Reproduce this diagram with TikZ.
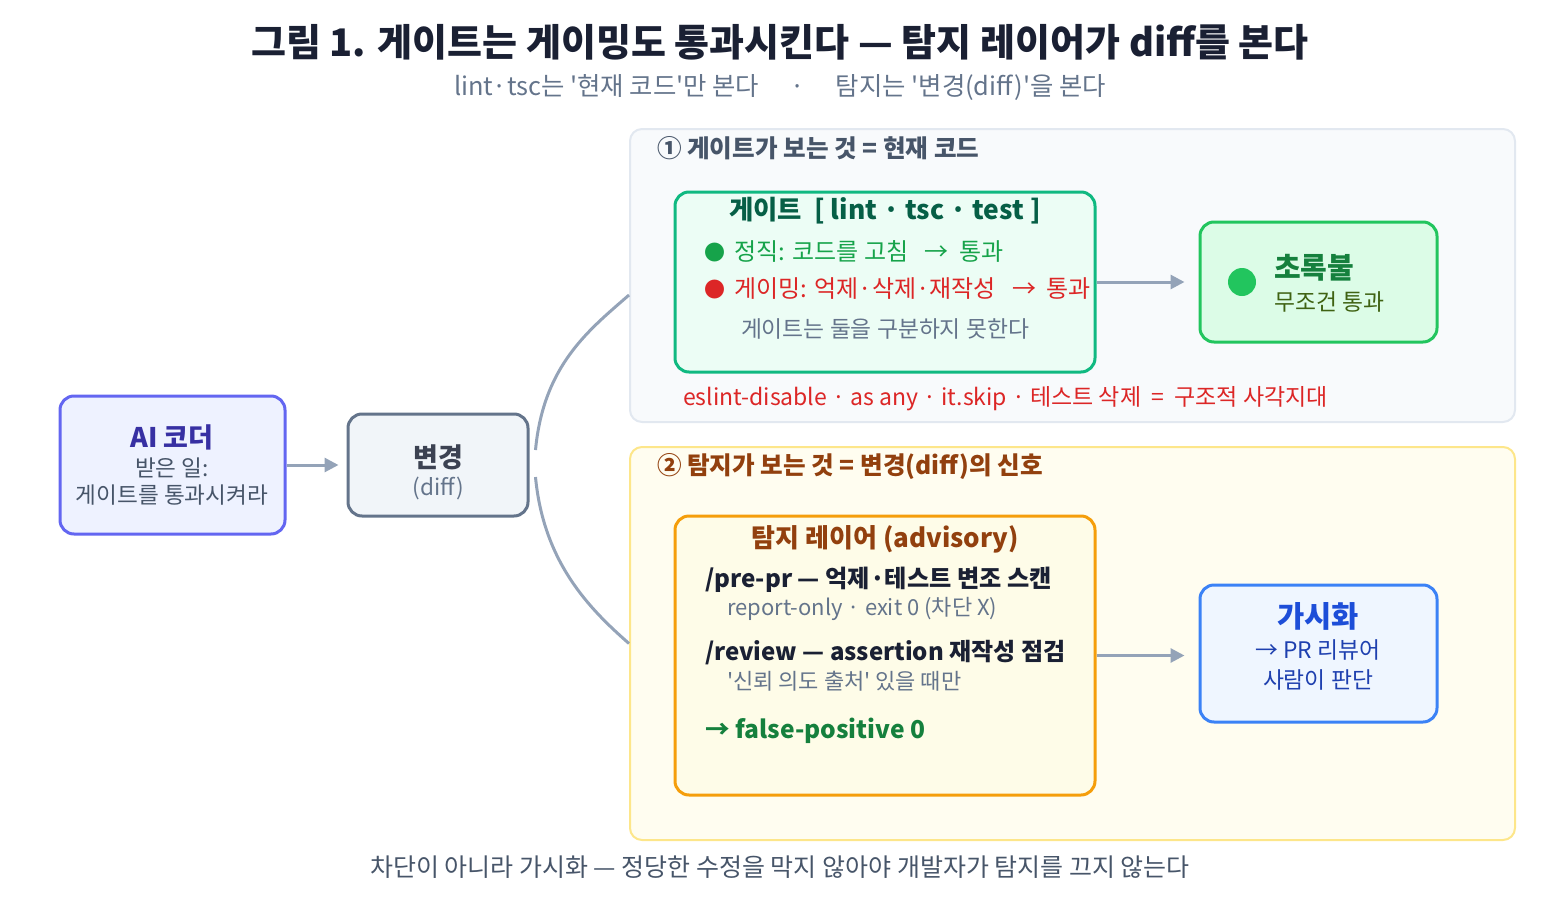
\documentclass[tikz,border=0pt]{standalone}
\usepackage{fontspec}
\setmainfont{Noto Sans CJK KR}[Ligatures=TeXOff]
\usepackage{xcolor}
\usetikzlibrary{arrows.meta, positioning}

\definecolor{ink}{HTML}{1A2033}
\definecolor{slate}{HTML}{64748B}
\definecolor{slatedark}{HTML}{475569}
\definecolor{wire}{HTML}{94A3B8}
\definecolor{honest}{HTML}{16A34A}
\definecolor{gaming}{HTML}{DC2626}
\definecolor{brown}{HTML}{92400E}
\definecolor{emerald}{HTML}{10B981}
\definecolor{lime}{HTML}{22C55E}
\definecolor{amber}{HTML}{F59E0B}
\definecolor{indigo}{HTML}{6366F1}
\definecolor{sky}{HTML}{3B82F6}
\definecolor{topfill}{HTML}{F8FAFC}
\definecolor{topedge}{HTML}{E2E8F0}
\definecolor{botfill}{HTML}{FFFDF0}
\definecolor{botedge}{HTML}{FDE68A}
\definecolor{coderfill}{HTML}{EEF2FF}
\definecolor{codertext}{HTML}{3730A3}
\definecolor{changefill}{HTML}{F1F5F9}
\definecolor{gatefill}{HTML}{ECFDF5}
\definecolor{gatetext}{HTML}{065F46}
\definecolor{lightfill}{HTML}{DCFCE7}
\definecolor{passgreen}{HTML}{15803D}
\definecolor{olivetext}{HTML}{3F6212}
\definecolor{detectfill}{HTML}{FEFCE8}
\definecolor{vizfill}{HTML}{EFF6FF}
\definecolor{viztitle}{HTML}{1D4ED8}
\definecolor{viztext}{HTML}{1E40AF}

\begin{document}
\begin{tikzpicture}[
    x=0.5pt, y=-0.5pt,
    box/.style={rectangle, draw, rounded corners=7pt, line width=1.5pt, inner sep=0pt},
    panel/.style={rectangle, draw, rounded corners=6pt, line width=1pt, inner sep=0pt},
    arrow/.style={-{Triangle[length=7pt, width=7pt]}, line width=1.5pt, draw=wire},
    curve/.style={line width=1.5pt, draw=wire},
    head/.style={font=\bfseries\fontsize{13.5}{16}\selectfont},
    sub/.style={font=\fontsize{11.3}{13.5}\selectfont, text=slate},
    tag/.style={font=\bfseries\fontsize{12.3}{14}\selectfont, anchor=west}
]
\useasboundingbox (0,0) rectangle (1560,900);

% Title
\node[font=\bfseries\fontsize{19}{23}\selectfont, text=ink] (title) at (780,42) {그림 1. 게이트는 게이밍도 통과시킨다 — 탐지 레이어가 diff를 본다};
\node[font=\fontsize{12.7}{15}\selectfont, text=slate] (subtitle) at (780,87) {lint·tsc는 '현재 코드'만 본다 \quad · \quad 탐지는 '변경(diff)'을 본다};

% Panels
\node[panel, fill=topfill, draw=topedge, minimum width=442.5pt, minimum height=146.5pt] (toppanel) at (1072.5,275.5) {};
\node[panel, fill=botfill, draw=botedge, minimum width=442.5pt, minimum height=196.5pt] (botpanel) at (1072.5,643.5) {};
\node[tag, text=slatedark] (toptag) at (650,148) {① 게이트가 보는 것 = 현재 코드};
\node[tag, text=brown] (bottag) at (650,466) {② 탐지가 보는 것 = 변경(diff)의 신호};

% Left: coder and change
\node[box, fill=coderfill, draw=indigo, minimum width=112.5pt, minimum height=69pt] (coder) at (172.5,465) {};
\node[head, text=codertext] at (172,437) {AI 코더};
\node[sub, text=slatedark] at (172,468) {받은 일:};
\node[sub, text=slatedark] at (172,495) {게이트를 통과시켜라};

\node[box, fill=changefill, draw=slate, minimum width=90pt, minimum height=51pt] (change) at (438,465) {};
\node[head, text=ink!85] at (438,457) {변경};
\node[sub] at (438,488) {(diff)};

% Row 1: gate
\node[box, fill=gatefill, draw=emerald, minimum width=210pt, minimum height=90pt] (gate) at (885,282) {};
\node[head, font=\bfseries\fontsize{13.2}{16}\selectfont, text=gatetext] at (885,211) {게이트 \ [ lint · tsc · test ]};
\node[font=\fontsize{12}{14}\selectfont, text=honest, anchor=west] at (697,251) {{\fontsize{10.5}{12}\selectfont ●}\, 정직: 코드를 고침 \ \ →\ \ 통과};
\node[font=\fontsize{12}{14}\selectfont, text=gaming, anchor=west] at (697,289) {{\fontsize{10.5}{12}\selectfont ●}\, 게이밍: 억제·삭제·재작성 \ \ →\ \ 통과};
\node[font=\fontsize{11.4}{13}\selectfont, text=slate] at (885,329) {게이트는 둘을 구분하지 못한다};
\node[font=\fontsize{11.5}{13}\selectfont, text=gaming, anchor=west] at (676,399) {eslint-disable · as any · it.skip · 테스트 삭제 \ = \ 구조적 사각지대};

\node[box, fill=lightfill, draw=lime, minimum width=118.5pt, minimum height=60pt] (light) at (1318.5,282) {};
\node[circle, fill=lime, minimum size=14pt, inner sep=0pt] (lamp) at (1242,282) {};
\node[head, font=\bfseries\fontsize{14.5}{17}\selectfont, text=passgreen, anchor=west] at (1267,268) {초록불};
\node[font=\fontsize{11.4}{13}\selectfont, text=olivetext, anchor=west] at (1267,302) {무조건 통과};

% Row 2: detection layer
\node[box, fill=detectfill, draw=amber, minimum width=210pt, minimum height=139.5pt] (detect) at (885,655.5) {};
\node[head, font=\bfseries\fontsize{13}{16}\selectfont, text=brown] at (885,539) {탐지 레이어 (advisory)};
\node[font=\bfseries\fontsize{12.1}{15}\selectfont, text=ink, anchor=west] at (698,580) {/pre-pr — 억제·테스트 변조 스캔};
\node[sub, font=\fontsize{11}{13}\selectfont, anchor=west] at (720,609) {report-only · exit 0 (차단 X)};
\node[font=\bfseries\fontsize{12}{15}\selectfont, text=ink, anchor=west] at (698,653) {/review — assertion 재작성 점검};
\node[sub, font=\fontsize{11}{13}\selectfont, anchor=west] at (720,681) {'신뢰 의도 출처' 있을 때만};
\node[font=\bfseries\fontsize{12.3}{15}\selectfont, text=passgreen, anchor=west] at (698,731) {→ false-positive 0};

\node[box, fill=vizfill, draw=sky, minimum width=118.5pt, minimum height=68.5pt] (viz) at (1318.5,653.5) {};
\node[head, font=\bfseries\fontsize{14.8}{17}\selectfont, text=viztitle] at (1318,616) {가시화};
\node[font=\fontsize{11.4}{13}\selectfont, text=viztext] at (1318,650) {→ PR 리뷰어};
\node[font=\fontsize{11.4}{13}\selectfont, text=viztext] at (1318,680) {사람이 판단};

% Arrows
\draw[arrow, shorten >=4pt] (coder) -- (change);
\draw[arrow, shorten >=7pt] (gate) -- (light);
\draw[arrow, shorten >=7pt] (detect) -- (detect -| viz.west);

% Branches from change
\draw[curve] ([xshift=3pt, yshift=7.5pt]change.east) .. controls +(8,-85) and +(-40,35) .. ([yshift=-9.75pt]toppanel.west);
\draw[curve] ([xshift=3pt, yshift=-6pt]change.east) .. controls +(8,85) and +(-40,-35) .. (botpanel.west);

% Caption
\node[font=\fontsize{12.5}{15}\selectfont, text=slatedark] (caption) at (780,867) {차단이 아니라 가시화 — 정당한 수정을 막지 않아야 개발자가 탐지를 끄지 않는다};

\end{tikzpicture}
\end{document}
